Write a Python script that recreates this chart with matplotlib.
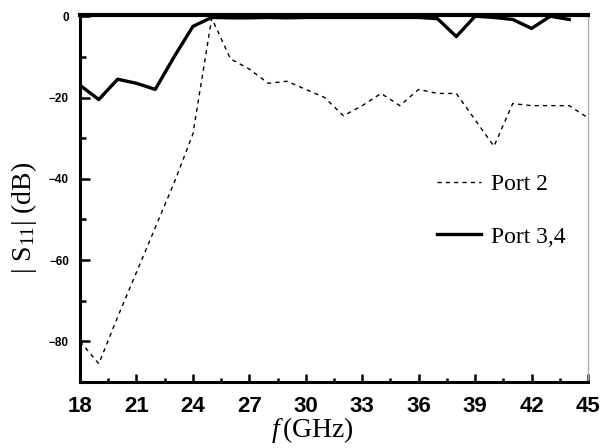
import numpy as np
import matplotlib
matplotlib.use("Agg")
import matplotlib.pyplot as plt
from matplotlib.ticker import MultipleLocator

plt.rcParams["mathtext.fontset"] = "custom"
plt.rcParams["mathtext.it"] = "Liberation Serif:italic"
plt.rcParams["mathtext.rm"] = "Liberation Serif"

# frequency points (GHz)
freq = [18, 19, 20, 21, 22, 23, 24, 25, 26, 27, 28, 29, 30, 31,
        32, 33, 34, 35, 36, 37, 38, 39, 40, 41, 42, 43, 44, 45]

# |S11| of port 2 (dB)
s11_port2 = [-80, -85.5, -74, -63, -52, -41, -29, -0.5, -10.5, -13, -16.5, -16,
             -18, -20, -24.5, -22, -19, -22, -18, -19, -19, -25.5, -32, -21.5,
             -22, -22, -22, -25]

# |S11| of port 3,4 (dB)
freq34 = [18, 19, 20, 21, 22, 23, 24, 25, 26, 27, 28, 29, 30, 31,
          32, 33, 34, 35, 36, 37, 38, 39, 40, 41, 42, 43, 44]
s11_port34 = [-17, -20.5, -15.5, -16.5, -18, -10, -2.5, -0.3, -0.4, -0.4, -0.3,
              -0.4, -0.3, -0.3, -0.3, -0.3, -0.3, -0.3, -0.3, -0.6, -5, 0,
              -0.3, -0.8, -3, 0, -0.8]

xticks = [18, 21, 24, 27, 30, 33, 36, 39, 42, 45]
yticks = [0, -20, -40, -60, -80]

fig = plt.figure(figsize=(6.08, 4.48), dpi=100)
ax = fig.add_axes([0.1316, 0.1473, 0.8355, 0.8192])

ax.plot(freq, s11_port2, color="black", lw=1.0, linestyle=(0, (3, 3)),
        label="Port 2")
ax.plot(freq34, s11_port34, color="black", lw=2.4, label="Port 3,4")

ax.set_xlim(18, 45)
ax.set_ylim(-90, 0.3)
ax.set_xticks(xticks)
ax.set_yticks(yticks)
ax.xaxis.set_minor_locator(MultipleLocator(1.5))
ax.yaxis.set_minor_locator(MultipleLocator(10))

ax.tick_params(axis="x", which="both", direction="in", width=1.8, pad=10)
ax.tick_params(axis="x", which="major", length=6)
ax.tick_params(axis="x", which="minor", length=3)
ax.tick_params(axis="y", which="both", direction="in", width=1.8, pad=8)
ax.tick_params(axis="y", which="major", length=7)
ax.tick_params(axis="y", which="minor", length=4)

for lbl in ax.get_xticklabels():
    lbl.set_fontsize(16)
    lbl.set_fontweight("bold")
    lbl.set_family("Liberation Sans")
for lbl in ax.get_yticklabels():
    lbl.set_fontsize(8.5)
    lbl.set_fontweight("bold")
    lbl.set_family("Liberation Sans")

for side in ["left", "bottom"]:
    ax.spines[side].set_linewidth(2.2)
ax.spines["top"].set_linewidth(3)
ax.spines["right"].set_linewidth(1.0)
ax.spines["right"].set_color("#b0b0b0")

ax.set_xlabel(r"$\mathit{f}\,$(GHz)", fontsize=20, family="Liberation Serif")
ax.xaxis.set_label_coords(0.457, -0.09)
ax.set_ylabel(r"| S$_{11}$| (dB)", fontsize=20, family="Liberation Serif")
ax.yaxis.set_label_coords(-0.08, 0.447)

leg = ax.legend(frameon=False, loc="upper left", bbox_to_anchor=(0.66, 0.625),
                prop={"family": "Liberation Serif", "size": 17},
                handlelength=1.9, handletextpad=0.4, labelspacing=1.3)

plt.savefig("out.png", dpi=100)
